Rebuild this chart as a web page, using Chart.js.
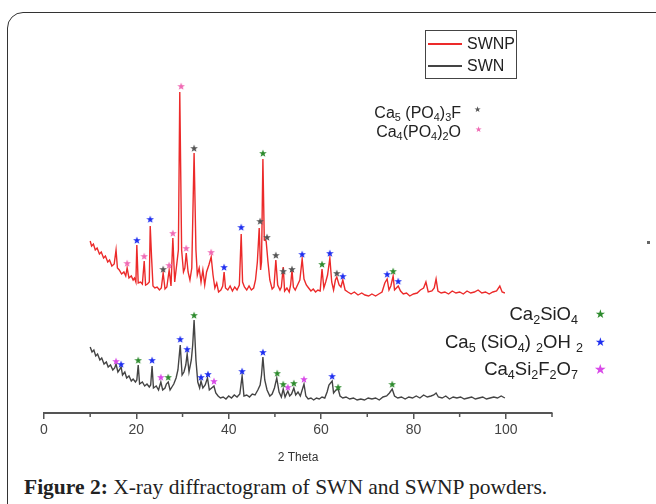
<!DOCTYPE html>
<html>
<head>
<meta charset="utf-8">
<script src="https://cdn.jsdelivr.net/npm/chart.js@4.4.0/dist/chart.umd.min.js"></script>
<style>
  body { margin: 0; width: 656px; height: 504px; position: relative; overflow: hidden; background: #fff; }
  #frame { position: absolute; left: 7px; top: 12px; width: 720px; height: 600px; border: 1.5px solid #333; border-radius: 16px; }
  #wrap { position: absolute; left: 0; top: 0; width: 656px; height: 470px; }
  .txt { position: absolute; font-family: "Liberation Sans", Arial, sans-serif; color: #222; white-space: nowrap; }
  .txt sub { font-size: 0.68em; vertical-align: -0.3em; line-height: 0; }
  .star { position: absolute; font-family: "DejaVu Sans", sans-serif; line-height: 1; }
  #legend { position: absolute; left: 425px; top: 30px; width: 90px; height: 47px; border: 1px solid #444; background: #fff; }
  #legend .row { position: absolute; left: 2px; height: 20px; }
  #legend .ln { position: absolute; left: 0; top: 9px; width: 34px; height: 1.5px; }
  #legend .lb { position: absolute; left: 39px; top: 1px; font-family: "Liberation Sans", Arial, sans-serif; font-size: 16px; color: #222; }
  #caption { position: absolute; left: 24px; top: 475px; font-family: "Liberation Serif", serif; font-size: 21.5px; color: #222; white-space: nowrap; }
</style>
</head>
<body>
<div id="frame"></div>
<div id="wrap"><canvas id="xrd" width="656" height="470"></canvas></div>
<div id="legend"></div>

<div class="txt" style="right:195px; top:104px; font-size:16px;">Ca<sub>5</sub> (PO<sub>4</sub>)<sub>3</sub>F</div>
<span class="star" style="left:474px; top:106px; font-size:8px; color:#555;">&#9733;</span>
<div class="txt" style="right:195px; top:123px; font-size:16px;">Ca<sub>4</sub>(PO<sub>4</sub>)<sub>2</sub>O</div>
<span class="star" style="left:475px; top:126px; font-size:8px; color:#f06ab4;">&#9733;</span>

<div class="txt" style="right:78px; top:303px; font-size:18.5px;">Ca<sub>2</sub>SiO<sub>4</sub></div>
<span class="star" style="left:595px; top:308px; font-size:12px; color:#2e8b2e;">&#9733;</span>
<div class="txt" style="right:73px; top:331px; font-size:18.5px;">Ca<sub>5</sub> (SiO<sub>4</sub>) <sub>2</sub>OH <sub>2</sub></div>
<span class="star" style="left:595px; top:336px; font-size:12px; color:#1f2ff0;">&#9733;</span>
<div class="txt" style="right:78px; top:358px; font-size:18.5px;">Ca<sub>4</sub>Si<sub>2</sub>F<sub>2</sub>O<sub>7</sub></div>
<span class="star" style="left:594px; top:362px; font-size:14px; color:#d84ae8;">&#9733;</span>

<div style="position:absolute; left:647px; top:241px; width:3px; height:3px; background:#666;"></div>

<div id="caption"><b>Figure 2:</b> X-ray diffractogram of SWN and SWNP powders.</div>

<script>
// 2 theta (deg) vs intensity (a.u.)
const swnp = [
  [10.0,1720],[10.3,1670],[10.7,1690],[11.1,1630],[11.5,1650],[12.0,1590],[12.4,1610],[12.9,1550],[13.3,1570],
  [13.8,1510],[14.2,1530],[14.7,1470],[15.2,1490],[15.6,1630],[15.9,1450],[16.3,1430],[16.8,1390],[17.3,1410],
  [17.7,1370],[18.0,1450],[18.4,1350],[18.9,1370],[19.3,1330],[19.6,1350],[19.9,1310],[20.1,1680],[20.4,1300],
  [20.9,1310],[21.3,1290],[21.7,1520],[22.0,1280],[22.4,1290],[22.8,1310],[23.0,1870],[23.3,1550],[23.6,1270],
  [24.0,1250],[24.5,1260],[25.0,1230],[25.4,1250],[25.8,1400],[26.2,1240],[26.6,1260],[27.1,1430],[27.5,1270],
  [27.9,1750],[28.3,1310],[28.8,1510],[29.1,1630],[29.4,3210],[29.8,1630],[30.2,1410],[30.5,1450],[30.8,1600],
  [31.2,1410],[31.6,1330],[32.0,1450],[32.5,2600],[32.9,1630],[33.2,1380],[33.6,1450],[34.0,1310],[34.4,1430],
  [34.8,1280],[35.2,1410],[35.7,1480],[36.2,1560],[36.6,1380],[37.0,1250],[37.4,1300],[37.8,1210],[38.3,1230],
  [38.7,1270],[39.0,1410],[39.3,1250],[39.8,1230],[40.3,1270],[40.8,1220],[41.3,1260],[41.8,1230],[42.3,1280],
  [42.7,1790],[43.0,1310],[43.4,1260],[43.9,1230],[44.4,1270],[44.9,1230],[45.4,1250],[45.8,1330],[46.2,1510],
  [46.6,1850],[46.9,1430],[47.1,1510],[47.4,2540],[47.7,1730],[48.1,1720],[48.5,1510],[48.9,1330],[49.4,1240],
  [49.8,1260],[50.2,1530],[50.6,1280],[51.1,1230],[51.4,1260],[51.8,1460],[52.1,1220],[52.6,1250],[53.1,1210],
  [53.4,1280],[53.7,1430],[54.0,1260],[54.4,1230],[54.9,1280],[55.4,1330],[55.9,1540],[56.3,1340],[56.8,1280],
  [57.3,1250],[57.8,1220],[58.3,1240],[58.8,1210],[59.3,1230],[59.8,1220],[60.2,1440],[60.6,1250],[61.0,1310],
  [61.4,1380],[61.9,1550],[62.3,1310],[62.7,1230],[63.1,1330],[63.4,1360],[63.9,1280],[64.3,1260],[64.7,1330],
  [65.2,1230],[65.8,1210],[66.5,1190],[67.2,1210],[68.0,1180],[68.8,1200],[69.5,1180],[70.3,1170],[71.0,1190],
  [71.8,1170],[72.5,1190],[73.2,1210],[73.8,1300],[74.3,1340],[74.7,1230],[75.1,1270],[75.6,1370],[75.9,1230],
  [76.3,1250],[76.7,1270],[77.2,1220],[77.8,1190],[78.5,1200],[79.2,1170],[80.0,1190],[80.8,1200],[81.5,1230],
  [82.2,1250],[82.7,1310],[83.2,1210],[84.0,1220],[84.5,1250],[84.9,1340],[85.3,1220],[86.0,1200],[86.8,1210],
  [87.6,1190],[88.4,1220],[89.2,1200],[90.0,1210],[90.8,1190],[91.6,1220],[92.4,1200],[93.2,1210],[94.0,1230],
  [94.8,1200],[95.6,1210],[96.4,1190],[97.2,1210],[98.0,1220],[98.7,1270],[99.2,1210],[99.8,1200]
];

const swn = [
  [10.0,660],[10.4,610],[10.8,630],[11.2,570],[11.6,590],[12.1,530],[12.5,550],[13.0,490],[13.5,510],[13.9,460],
  [14.4,480],[14.9,430],[15.3,450],[15.6,490],[16.0,410],[16.3,430],[16.7,460],[17.0,380],[17.5,410],[17.9,350],
  [18.4,370],[18.9,320],[19.3,340],[19.8,310],[20.1,330],[20.4,480],[20.7,290],[21.3,310],[21.8,270],[22.3,290],
  [22.8,260],[23.1,280],[23.4,470],[23.7,250],[24.3,270],[24.8,230],[25.3,310],[25.7,230],[26.2,250],[26.5,290],
  [26.9,310],[27.3,230],[27.7,260],[28.1,290],[28.6,350],[29.0,430],[29.5,680],[29.9,380],[30.3,410],[30.7,480],
  [31.0,590],[31.4,410],[31.9,530],[32.2,680],[32.5,930],[32.9,530],[33.3,310],[33.7,250],[34.0,320],[34.4,250],
  [34.9,280],[35.4,350],[35.8,230],[36.3,250],[36.8,270],[37.2,200],[37.7,170],[38.2,150],[38.8,160],[39.4,140],
  [40.0,170],[40.6,150],[41.2,180],[41.8,160],[42.4,190],[42.9,370],[43.3,170],[43.9,180],[44.5,160],[45.1,190],
  [45.7,180],[46.3,230],[46.8,280],[47.1,380],[47.4,560],[47.8,330],[48.3,230],[48.9,170],[49.4,190],[49.9,250],
  [50.4,350],[50.9,210],[51.4,160],[51.8,240],[52.2,160],[52.8,220],[53.2,170],[53.6,190],[54.1,250],[54.5,180],
  [55.0,210],[55.5,170],[56.3,290],[56.7,170],[57.2,140],[57.8,150],[58.4,130],[59.0,150],[59.6,140],[60.2,160],
  [60.8,150],[61.3,210],[61.7,280],[62.4,320],[62.7,200],[63.2,230],[63.7,240],[64.1,170],[64.7,150],[65.4,160],
  [66.2,140],[67.0,150],[67.8,130],[68.6,140],[69.4,130],[70.2,150],[71.0,140],[71.8,150],[72.6,130],[73.4,160],
  [74.2,170],[74.8,200],[75.4,240],[75.9,170],[76.6,150],[77.4,160],[78.2,140],[79.0,160],[79.8,150],[80.6,170],
  [81.4,150],[82.2,180],[83.0,160],[83.8,170],[84.4,180],[84.9,200],[85.4,160],[86.2,150],[87.0,170],[87.8,140],
  [88.6,160],[89.4,150],[90.2,160],[91.0,140],[91.8,150],[92.6,160],[93.4,140],[94.2,150],[95.0,160],[95.8,140],
  [96.6,150],[97.4,160],[98.2,150],[99.0,170],[99.8,150]
];

// phase markers [2theta, height of star]
const fluorapatite = [[25.8,1440],[32.5,2650],[46.8,1920],[48.3,1760],[50.2,1580],[51.8,1420],[53.7,1440],[63.4,1400]];
const tetraCaP = [[18.0,1500],[21.7,1570],[27.1,1480],[27.9,1800],[29.7,3270],[30.8,1650],[36.2,1610]];
const larnite = [[47.4,2600],[60.2,1490],[75.6,1420],[20.4,530],[26.9,360],[32.5,980],[50.5,400],[51.8,290],[54.1,300],[63.7,260],[75.4,290]];
const calcioChondro = [[20.1,1730],[23.0,1940],[39.0,1460],[42.7,1860],[55.9,1590],[61.9,1600],[64.7,1370],[74.3,1390],[76.7,1320],
  [16.7,490],[23.4,530],[29.5,740],[31.0,640],[34.0,360],[35.5,390],[42.9,420],[47.4,610],[62.4,370]];
const cuspidine = [[15.6,520],[25.3,360],[36.8,320],[52.8,260],[56.3,340]];

const xTicks = [0, 20, 40, 60, 80, 100];

function starImg(color, size) {
  const c = document.createElement('canvas');
  c.width = size; c.height = size;
  const g = c.getContext('2d');
  g.fillStyle = color;
  g.beginPath();
  for (let i = 0; i < 10; i++) {
    const r = i % 2 ? size * 0.21 : size * 0.5;
    const a = -Math.PI / 2 + i * Math.PI / 5;
    g.lineTo(size / 2 + r * Math.cos(a), size / 2 + 0.5 + r * Math.sin(a));
  }
  g.closePath();
  g.fill();
  return c;
}

const pts = arr => arr.map(p => ({x: p[0], y: p[1]}));

function stars(label, arr, color, size) {
  return {
    type: 'scatter', label: label, data: pts(arr), order: 0,
    pointStyle: starImg(color, size), pointRadius: size / 2, showLine: false
  };
}

const lines = [
  {label: 'SWNP', color: '#ec2a2a'},
  {label: 'SWN', color: '#444'}
];

const minorTicks = {
  id: 'minorTicks',
  afterDraw(chart) {
    const sx = chart.scales.x, ctx = chart.ctx;
    ctx.save();
    ctx.strokeStyle = '#555';
    ctx.lineWidth = 1.5;
    for (let v = 10; v <= 110; v += 20) {
      const px = sx.getPixelForValue(v);
      ctx.beginPath();
      ctx.moveTo(px, sx.top);
      ctx.lineTo(px, sx.top + 4);
      ctx.stroke();
    }
    ctx.restore();
  }
};

new Chart(document.getElementById('xrd'), {
  type: 'line',
  data: {
    datasets: [
      stars('Ca5(PO4)3F', fluorapatite, '#555', 8),
      stars('Ca4(PO4)2O', tetraCaP, '#f06ab4', 8),
      stars('Ca2SiO4', larnite, '#2e8b2e', 8),
      stars('Ca5(SiO4)2(OH)2', calcioChondro, '#1f2ff0', 8),
      stars('Ca4Si2F2O7', cuspidine, '#d84ae8', 8),
      {label: 'SWNP', data: pts(swnp), borderColor: lines[0].color, borderWidth: 1.4, pointRadius: 0, tension: 0, order: 1},
      {label: 'SWN', data: pts(swn), borderColor: lines[1].color, borderWidth: 1.4, pointRadius: 0, tension: 0, order: 1}
    ]
  },
  options: {
    responsive: false,
    animation: false,
    devicePixelRatio: 1,
    layout: {padding: {left: 44, right: 104, top: 13, bottom: 0}},
    plugins: {legend: {display: false}, tooltip: {enabled: false}},
    scales: {
      x: {
        type: 'linear', min: 0, max: 110,
        afterFit: s => { s.height = 57; },
        border: {display: true, color: '#555', width: 2},
        grid: {
          drawOnChartArea: false, drawTicks: true, tickLength: 6, lineWidth: 1.5,
          tickColor: c => (c.tick && c.tick.value % 20 === 0) ? '#555' : 'rgba(0,0,0,0)'
        },
        ticks: {
          stepSize: 10, autoSkip: false, maxRotation: 0, padding: 3, color: '#444',
          font: {family: 'Liberation Sans, Arial, sans-serif', size: 14},
          callback: v => xTicks.includes(v) ? v : ''
        },
        title: {
          display: true, text: '2 Theta', color: '#333',
          font: {family: 'Liberation Sans, Arial, sans-serif', size: 12},
          padding: {top: 0, bottom: 5}
        }
      },
      y: {display: false, min: 0, max: 4000}
    }
  },
  plugins: [minorTicks]
});

// legend box built from the line series
const lg = document.getElementById('legend');
lines.forEach((l, i) => {
  const row = document.createElement('div');
  row.className = 'row';
  row.style.top = (3 + i * 22) + 'px';
  row.innerHTML = '<div class="ln" style="background:' + l.color + '"></div><div class="lb">' + l.label + '</div>';
  lg.appendChild(row);
});
</script>
</body>
</html>
